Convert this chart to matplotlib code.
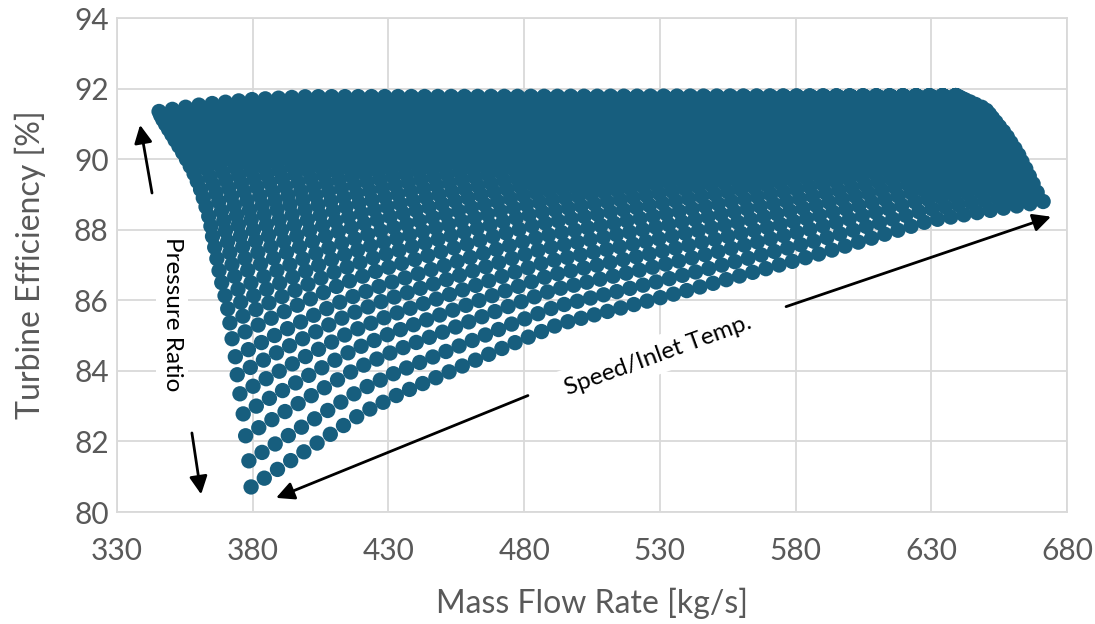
import numpy as np
import matplotlib.pyplot as plt

plt.rcParams['font.family'] = ['Lato', 'DejaVu Sans']

# Lower edge of the map (lowest curve)
bottom_m = [379.4, 420.6, 434.3, 475.9, 493.2, 530.1, 542.2, 589.0, 629.6, 671.2]
bottom_eta = [80.70, 82.81, 83.35, 84.77, 85.33, 86.07, 86.32, 87.32, 88.26, 88.80]

# Upper edge of the map (highest curve)
top_m = [345.5, 361.7, 380.0, 400.0, 639.0]
top_eta = [91.35, 91.55, 91.69, 91.77, 91.80]

# Start point of every curve (left edge of the map)
left_m = [379.4, 378.6, 377.4, 376.5, 375.3, 374.3, 373.6, 372.4, 371.6, 370.8,
          369.8, 368.6, 367.6, 366.8, 366.0, 365.2, 364.6, 363.8, 362.8, 361.8,
          360.8, 359.6, 358.4, 357.0, 355.6, 354.2, 352.8, 351.4, 350.2, 349.0,
          347.9, 346.9, 346.1, 345.5]
left_eta = [80.71, 81.45, 82.16, 82.78, 83.35, 83.89, 84.40, 84.91, 85.36, 85.76,
            86.13, 86.50, 86.84, 87.18, 87.50, 87.81, 88.10, 88.38, 88.65, 88.90,
            89.14, 89.37, 89.59, 89.80, 90.00, 90.19, 90.37, 90.54, 90.70, 90.85,
            90.99, 91.12, 91.24, 91.35]

# End point of every curve (right edge of the map)
right_m = [671.2, 669.0, 667.5, 666.1, 664.8, 663.4, 662.2, 660.8, 659.3, 658.0,
           656.6, 655.1, 653.8, 652.5, 651.4, 650.3, 648.6, 646.3, 644.3, 642.5,
           641.3, 640.5, 639.9, 639.6, 639.3, 639.0, 639.0, 639.0, 639.0, 639.0,
           639.0, 639.0, 639.0, 639.0]
right_eta = [88.80, 89.06, 89.30, 89.52, 89.73, 89.93, 90.12, 90.30, 90.47, 90.63,
             90.78, 90.92, 91.05, 91.17, 91.28, 91.38, 91.47, 91.55, 91.62, 91.68,
             91.72, 91.75, 91.77, 91.78, 91.79, 91.80, 91.80, 91.80, 91.80, 91.80,
             91.80, 91.80, 91.80, 91.80]

n_points = 61  # points along each curve

x_ticks = [330, 380, 430, 480, 530, 580, 630, 680]
y_ticks = [80, 82, 84, 86, 88, 90, 92, 94]

color = '#175e7e'
gray = '#595959'

# Build each curve between its start and end, following the shape of the map edges
v = np.linspace(0, 1, n_points)
s = 1 - (1 - v) ** 4
eB = np.interp(bottom_m[0] + v * (bottom_m[-1] - bottom_m[0]), bottom_m, bottom_eta)
eT = np.interp(top_m[0] + v * (top_m[-1] - top_m[0]), top_m, top_eta)

mass_flow = []
efficiency = []
for k in range(len(left_m)):
    w = (left_eta[k] - bottom_eta[0]) / (top_eta[0] - bottom_eta[0])
    m = (1 - v) * left_m[k] + v * right_m[k]
    lower = eB + (left_eta[k] - bottom_eta[0]) * (1 - s) + (right_eta[k] - bottom_eta[-1]) * s
    upper = eT + (left_eta[k] - top_eta[0]) * (1 - s) + (right_eta[k] - top_eta[-1]) * s
    mass_flow.append(m)
    efficiency.append((1 - w) * lower + w * upper)
mass_flow = np.concatenate(mass_flow)
efficiency = np.concatenate(efficiency)

fig = plt.figure(figsize=(10.95, 6.24), dpi=100)
ax = fig.add_axes([117 / 1095, 1 - 512 / 624, 950 / 1095, 494 / 624])

ax.scatter(mass_flow, efficiency, s=122, color=color, edgecolors='none', zorder=3)

ax.set_xlim(330, 680)
ax.set_ylim(80, 94)
ax.set_xticks(x_ticks)
ax.set_yticks(y_ticks)
ax.grid(True, color='#d9d9d9', linewidth=1.3, zorder=0)
ax.set_axisbelow(True)
for sp in ax.spines.values():
    sp.set_color('#d9d9d9')
    sp.set_linewidth(1.3)
ax.tick_params(length=0, labelsize=21.5, colors=gray)
ax.tick_params(axis='x', pad=18)
ax.tick_params(axis='y', pad=6)
ax.set_xlabel('Mass Flow Rate [kg/s]', fontsize=23, color=gray, labelpad=16)
ax.set_ylabel('Turbine Efficiency [%]', fontsize=23, color=gray, labelpad=20)

# Annotations
arrow = dict(arrowstyle='-|>', color='black', lw=2, mutation_scale=27, shrinkA=0, shrinkB=0)
ax.annotate('', xy=(338.5, 90.97), xytext=(342.9, 89.04), arrowprops=arrow, zorder=5)
ax.annotate('', xy=(361.0, 80.50), xytext=(357.6, 82.24), arrowprops=arrow, zorder=5)
ax.annotate('', xy=(388.6, 80.40), xytext=(481.4, 83.30), arrowprops=arrow, zorder=5)
ax.annotate('', xy=(674.1, 88.37), xytext=(576.5, 85.82), arrowprops=arrow, zorder=5)

ax.text(350.3, 85.6, 'Pressure Ratio', rotation=-90, ha='center', va='center',
        fontsize=17.5, color='black', zorder=6,
        bbox=dict(facecolor='white', edgecolor='none', pad=4))
ax.text(529.3, 84.45, 'Speed/Inlet Temp.', rotation=20, ha='center', va='center',
        fontsize=17.5, color='black', zorder=6, rotation_mode='anchor',
        bbox=dict(facecolor='white', edgecolor='none', pad=6))

fig.savefig('out.png', dpi=100)
